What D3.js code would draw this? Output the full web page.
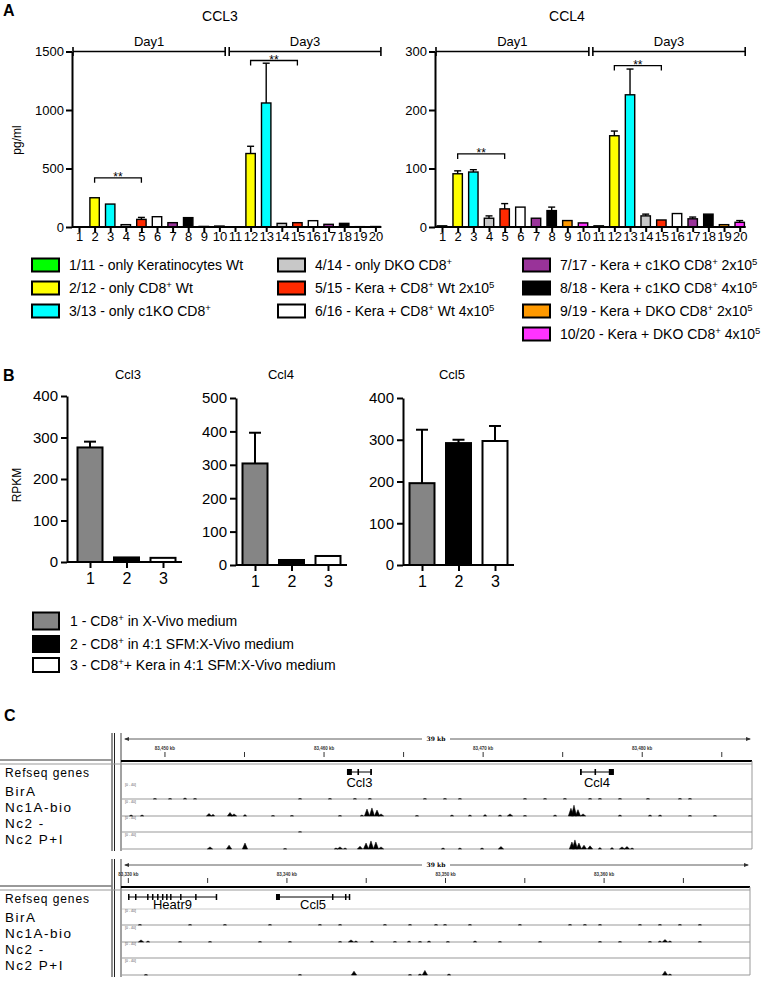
<!DOCTYPE html>
<html>
<head>
<meta charset="utf-8">
<script src="https://cdn.jsdelivr.net/npm/d3@7/dist/d3.min.js"></script>
<style>
body { margin: 0; background: #fff; }
svg { font-family: Arial, "Liberation Sans", Helvetica, sans-serif; }
</style>
</head>
<body>
<svg id="fig" width="764" height="981"></svg>
<script>
/* ---- panel A data ---- */
var groupsA = ["1","2","3","4","5","6","7","8","9","10","11","12","13","14","15","16","17","18","19","20"];
var ccl3Mean = [0,250,196,20,65,88,37,80,5,8, 0,628,1060,31,37,54,23,31,3,4];
var ccl3Err  = [0,256,200,22,82,92,40,83,5,8, 0,690,1400,34,40,57,26,33,3,4];
var ccl4Mean = [2,91,94,15,31,34,15,28,11,7, 2,156,226,19,12,23,14,22,4,8];
var ccl4Err  = [2,96,98,19,40,35,16,34,12,7, 2,164,270,22,13,24,17,23,4,11];
var ccl3Ticks = [0,500,1000,1500];
var ccl4Ticks = [0,100,200,300];
var days = ["Day1","Day3"];
var sigPairs = [["2","5"],["12","15"]];
var ccl3Sig = [420,1423];
var ccl4Sig = [125,276];
var legendA = [
  "1/11 - only Keratinocytes Wt",
  "2/12 - only CD8{+} Wt",
  "3/13 - only c1KO CD8{+}",
  "4/14 - only DKO CD8{+}",
  "5/15 - Kera + CD8{+} Wt 2x10{5}",
  "6/16 - Kera + CD8{+} Wt 4x10{5}",
  "7/17 - Kera + c1KO CD8{+} 2x10{5}",
  "8/18 - Kera + c1KO CD8{+} 4x10{5}",
  "9/19 - Kera + DKO CD8{+} 2x10{5}",
  "10/20 - Kera + DKO CD8{+} 4x10{5}"
];

/* ---- panel B data ---- */
var groupsB = ["1","2","3"];
var bCcl3 = [276,11,10], bCcl3Err = [290,12,11];
var bCcl4 = [304,15,27], bCcl4Err = [396,19,31];
var bCcl5 = [196,292,297], bCcl5Err = [324,300,333];
var legendB = [
  "1 - CD8{+} in X-Vivo medium",
  "2 - CD8{+} in 4:1 SFM:X-Vivo medium",
  "3 - CD8{+}+ Kera in 4:1 SFM:X-Vivo medium"
];

/* ---- panel C data (kb, signal 0-40) ---- */
var trackNames = ["BirA","Nc1A-bio","Nc2 -","Nc2 P+I"];
var topTicks = [83450,83455,83460,83465,83470,83475,83480,83485];
var topTickLabels = ["83,450 kb","","83,460 kb","","83,470 kb","","83,480 kb",""];
var botTicks = [83330,83335,83340,83345,83350,83355,83360,83365];
var botTickLabels = ["83,330 kb","","83,340 kb","","83,350 kb","","83,360 kb",""];

var topBirA = [[83449.37,1.5],[83450.32,1.5],[83451.26,3],[83451.89,1.5],[83458.49,1.5],[83460.37,1.5],[83461.94,1.5],[83462.88,1.5],[83466.34,1.5],[83467.60,1.5],[83468.54,1.5],[83472.63,1.5],[83473.89,1.5],[83475.14,1.5],[83476.72,1.5],[83477.34,1.5],[83478.60,1.5],[83480.36,1.5],[83482.37,1.5],[83483.00,1.5]];
var topNc1A = [[83447.87,3],[83448.56,3],[83452.77,7],[83453.02,5],[83454.09,10],[83454.34,6],[83455.03,4],[83456.79,1.5],[83457.98,1.5],[83461.00,1.5],[83462.38,3],[83462.70,20],[83463.01,23],[83463.33,17],[83463.58,6],[83465.84,1.5],[83468.04,3],[83469.17,3],[83470.12,4],[83471.06,3],[83471.69,6],[83472.63,1.5],[83474.52,3],[83475.52,22],[83475.71,31],[83475.96,18],[83476.28,6],[83478.60,3],[83480.49,3],[83481.12,3],[83483.00,1.5],[83484.57,1.5]];
var topNc2 = [[83458.49,1]];
var topNc2PI = [[83452.83,6],[83454.03,11],[83455.03,17],[83457.55,1.5],[83460.75,3],[83461.00,6],[83461.32,3],[83462.26,8],[83462.64,17],[83462.95,23],[83463.26,20],[83463.58,6],[83467.48,3],[83468.54,3],[83469.93,3],[83471.12,7],[83475.58,20],[83475.77,26],[83476.02,17],[83476.34,11],[83476.72,9],[83477.34,4],[83478.10,4],[83478.73,6],[83479.04,7],[83479.36,3]];

var botBirA = [[83330.73,1.5],[83333.89,1.5],[83336.09,1.5],[83338.93,1.5],[83342.08,1.5],[83343.35,1.5],[83346.18,1.5],[83347.76,1.5],[83349.40,1.5],[83349.97,1.5],[83351.54,1.5],[83354.69,1.5],[83357.85,1.5],[83358.79,1.5],[83359.74,1.5],[83362.26,1.5],[83363.52,1.5],[83364.78,1.5],[83366.04,1.5]];
var botNc1A = [[83330.80,6],[83331.24,3],[83333.26,1.5],[83335.15,1.5],[83338.30,1.5],[83340.19,1.5],[83343.35,1.5],[83344.04,6],[83344.35,3],[83345.36,3],[83346.81,1.5],[83347.70,3],[83348.39,1.5],[83348.96,3],[83350.15,1.5],[83351.86,3],[83353.43,1.5],[83355.96,1.5],[83359.74,1.5],[83361.00,1.5],[83362.89,1.5],[83363.52,3],[83363.84,7],[83364.15,3],[83366.04,1.5]];
var botNc2 = [];
var botNc2PI = [[83331.11,1.5],[83340.82,1.5],[83344.23,11],[83347.76,1.5],[83348.39,3],[83348.70,13],[83350.22,3],[83363.84,11],[83364.15,3]];

var topGenes = ["Ccl3","Ccl4"];
var topGeneSpan = [[83461.44,83463.01],[83476.09,83478.22]];
var topGeneExons = [[[83461.44,83461.75],[83462.10,83462.20],[83462.90,83463.01]],
                    [[83476.09,83476.20],[83477.00,83477.10],[83477.90,83478.22]]];
var botGenes = ["Heatr9","Ccl5"];
var botGeneSpan = [[83329.98,83335.59],[83339.31,83343.98]];
var botGeneExons = [[[83329.98,83330.06],[83330.42,83330.50],[83331.18,83331.26],[83331.49,83331.57],[83331.81,83331.89],[83332.12,83332.20],[83332.38,83332.46],[83332.63,83332.71],[83333.26,83333.34],[83334.21,83334.29],[83335.51,83335.59]],
                    [[83339.31,83339.56],[83342.84,83342.92],[83343.66,83343.74],[83343.90,83343.98]]];

/* styles */
var barFill = ["#00ff00","#ffff00","#00ffff","#c8c8c8","#ff2a00","#ffffff","#993399","#000000","#ff9900","#ff33ff"];
var bFill = ["#858585","#000000","#ffffff"];

var svg = d3.select("#fig");
svg.append("rect").attr("width",764).attr("height",981).attr("fill","#fff");

function rich(sel, str, size) {
  var parts = str.split(/\{|\}/);
  parts.forEach(function(p, i){
    if (p === "") return;
    var t = sel.append("tspan").text(p);
    if (i % 2 === 1) t.attr("dy", -size*0.38).style("font-size", (size*0.68)+"px");
    else if (i > 0) t.attr("dy", size*0.38);
  });
}

function styleAxis(a, fs) {
  a.attr("font-family", null).attr("font-size", fs);
  a.selectAll("path,line").attr("stroke","#000").attr("stroke-width",2);
  a.selectAll("text").attr("fill","#000");
}

/* ---- A ---- */
function drawA(c) {
  var g = svg.append("g");
  var x = d3.scalePoint().domain(groupsA).range([c.first, c.last]);
  var y = d3.scaleLinear().domain([0, c.ticks[c.ticks.length-1]]).range([227, 51.5]);
  var bw = 9.4;
  g.append("g").selectAll("rect").data(c.mean).join("rect")
    .attr("x", function(d,i){ return x(groupsA[i]) - bw/2; })
    .attr("y", function(d){ return y(d); })
    .attr("width", bw)
    .attr("height", function(d){ return y(0) - y(d); })
    .attr("fill", function(d,i){ return barFill[i % 10]; })
    .attr("stroke","#000").attr("stroke-width",1.4);
  var eb = g.append("g").attr("stroke","#000").attr("stroke-width",1.4);
  c.err.forEach(function(e,i){
    if (y(c.mean[i]) - y(e) < 1.5) return;
    var cx = x(groupsA[i]);
    eb.append("line").attr("x1",cx).attr("x2",cx).attr("y1",y(c.mean[i])).attr("y2",y(e));
    eb.append("line").attr("x1",cx-3.5).attr("x2",cx+3.5).attr("y1",y(e)).attr("y2",y(e));
  });
  var ya = g.append("g").attr("transform","translate("+c.axisX+",0)")
    .call(d3.axisLeft(y).tickValues(c.ticks).tickFormat(d3.format("d")).tickSize(6).tickSizeOuter(0).tickPadding(2));
  styleAxis(ya, 13);
  var xa = g.append("g").attr("transform","translate(0,227)")
    .call(d3.axisBottom(x).tickSize(5).tickSizeOuter(0).tickPadding(0));
  xa.select(".domain").remove();
  styleAxis(xa, 13);
  g.append("line").attr("x1",c.axisX).attr("x2",x("20")+6).attr("y1",227).attr("y2",227)
    .attr("stroke","#000").attr("stroke-width",2);

  // day brackets
  var yt = y.range()[1];
  var brk = (x("10") + x("11")) / 2;
  var spans = [[c.axisX + 1, brk - 2], [brk + 2, x("20") + 5.5]];
  var db = g.append("g").attr("stroke","#000").attr("stroke-width",1.6);
  spans.forEach(function(s, k){
    db.append("line").attr("x1",s[0]).attr("x2",s[1]).attr("y1",yt).attr("y2",yt);
    db.append("line").attr("x1",s[0]).attr("x2",s[0]).attr("y1",yt-4.5).attr("y2",yt+4.5);
    db.append("line").attr("x1",s[1]).attr("x2",s[1]).attr("y1",yt-4.5).attr("y2",yt+4.5);
    g.append("text").attr("x",(s[0]+s[1])/2).attr("y",yt-5.5).attr("text-anchor","middle")
      .attr("font-size",13).text(days[k]);
  });
  // significance
  sigPairs.forEach(function(p, k){
    var yy = y(c.sig[k]), xa1 = x(p[0]), xb = x(p[1]);
    g.append("path").attr("d","M"+xa1+","+(yy+5)+"V"+yy+"H"+xb+"V"+(yy+5))
      .attr("fill","none").attr("stroke","#000").attr("stroke-width",1.3);
    g.append("text").attr("x",(xa1+xb)/2).attr("y",yy+3.5).attr("text-anchor","middle")
      .attr("font-size",12).text("**");
  });
  g.append("text").attr("x",c.titleX).attr("y",21).attr("text-anchor","middle")
    .attr("font-size",14).text(c.title);
}

svg.append("text").attr("x",3).attr("y",16).attr("font-size",16).attr("font-weight","bold").text("A");
drawA({title:"CCL3", titleX:220, first:79, last:375.4, axisX:72, mean:ccl3Mean, err:ccl3Err, ticks:ccl3Ticks, sig:ccl3Sig});
drawA({title:"CCL4", titleX:567, first:442, last:739.7, axisX:435, mean:ccl4Mean, err:ccl4Err, ticks:ccl4Ticks, sig:ccl4Sig});
svg.append("text").attr("transform","translate(21,140) rotate(-90)").attr("text-anchor","middle")
  .attr("font-size",12).text("pg/ml");

// legend A
var legColX = [32, 278, 523];
var legRowY = [265, 288, 311, 334];
var legCol = [0,0,0,1,1,1,2,2,2,2];
var legRow = [0,1,2,0,1,2,0,1,2,3];
var lga = svg.append("g");
legendA.forEach(function(s, i){
  var lx = legColX[legCol[i]], ly = legRowY[legRow[i]];
  lga.append("rect").attr("x",lx).attr("y",ly-6.5).attr("width",27).attr("height",13)
    .attr("fill",barFill[i]).attr("stroke","#000").attr("stroke-width",2);
  var t = lga.append("text").attr("x",lx+37).attr("y",ly+5).attr("font-size",14);
  rich(t, s, 14);
});

/* ---- B ---- */
function drawB(c) {
  var g = svg.append("g");
  var x = d3.scalePoint().domain(groupsB).range([c.first, c.first + 73]);
  var y = d3.scaleLinear().domain([0, c.ticks[c.ticks.length-1]]).range([c.y0, c.yTop]);
  var bw = 25;
  g.append("g").selectAll("rect").data(c.mean).join("rect")
    .attr("x", function(d,i){ return x(groupsB[i]) - bw/2; })
    .attr("y", function(d){ return y(d); })
    .attr("width", bw)
    .attr("height", function(d){ return y(0) - y(d); })
    .attr("fill", function(d,i){ return bFill[i]; })
    .attr("stroke","#000").attr("stroke-width",2);
  var eb = g.append("g").attr("stroke","#000").attr("stroke-width",2);
  c.err.forEach(function(e,i){
    if (y(c.mean[i]) - y(e) < 1.5) return;
    var cx = x(groupsB[i]);
    eb.append("line").attr("x1",cx).attr("x2",cx).attr("y1",y(c.mean[i])).attr("y2",y(e));
    eb.append("line").attr("x1",cx-6).attr("x2",cx+6).attr("y1",y(e)).attr("y2",y(e));
  });
  var ya = g.append("g").attr("transform","translate("+c.axisX+",0)")
    .call(d3.axisLeft(y).tickValues(c.ticks).tickSize(6).tickSizeOuter(0).tickPadding(3));
  styleAxis(ya, 15);
  var xa = g.append("g").attr("transform","translate(0,"+c.y0+")")
    .call(d3.axisBottom(x).tickSize(6).tickSizeOuter(0).tickPadding(5));
  xa.select(".domain").remove();
  styleAxis(xa, 16);
  g.append("line").attr("x1",c.axisX).attr("x2",x("3")+19).attr("y1",c.y0).attr("y2",c.y0)
    .attr("stroke","#000").attr("stroke-width",2);
  g.append("text").attr("x",c.titleX).attr("y",379).attr("text-anchor","middle")
    .attr("font-size",13).text(c.title);
}

svg.append("text").attr("x",3).attr("y",381).attr("font-size",16).attr("font-weight","bold").text("B");
drawB({title:"Ccl3", titleX:128, axisX:67, first:90, y0:562, yTop:396, mean:bCcl3, err:bCcl3Err, ticks:[0,100,200,300,400]});
drawB({title:"Ccl4", titleX:281, axisX:236, first:255, y0:565, yTop:398, mean:bCcl4, err:bCcl4Err, ticks:[0,100,200,300,400,500]});
drawB({title:"Ccl5", titleX:452, axisX:403, first:422, y0:565, yTop:398, mean:bCcl5, err:bCcl5Err, ticks:[0,100,200,300,400]});
svg.append("text").attr("transform","translate(21,485) rotate(-90)").attr("text-anchor","middle")
  .attr("font-size",12).text("RPKM");

var lgb = svg.append("g");
var lgbY = [621, 644, 665];
var lgbH = [17, 16, 14];
legendB.forEach(function(s, i){
  lgb.append("rect").attr("x",33).attr("y",lgbY[i]-lgbH[i]/2).attr("width",26).attr("height",lgbH[i])
    .attr("fill",bFill[i]).attr("stroke","#000").attr("stroke-width",2);
  var t = lgb.append("text").attr("x",70).attr("y",lgbY[i]+5).attr("font-size",14);
  rich(t, s, 14);
});

/* ---- C ---- */
function drawTracks(c) {
  var g = svg.append("g");
  var t = c.top;
  var x = d3.scaleLinear().domain(c.domain).range([122, c.right]);
  var L = 122, R = c.right;
  // left dividers
  [112, 114.5].forEach(function(xx){
    g.append("line").attr("x1",xx).attr("x2",xx).attr("y1",t-6).attr("y2",Math.min(t+112,981))
      .attr("stroke","#222").attr("stroke-width",1);
  });
  g.append("line").attr("x1",121).attr("x2",121).attr("y1",t-6).attr("y2",Math.min(t+112,981))
    .attr("stroke","#444").attr("stroke-width",1);
  // ruler arrow
  g.append("line").attr("x1",L+3).attr("x2",R-2).attr("y1",t).attr("y2",t).attr("stroke","#333").attr("stroke-width",0.8);
  g.append("path").attr("d","M"+(L+2)+","+t+"l5,-2v4z").attr("fill","#333");
  g.append("path").attr("d","M"+(R-1)+","+t+"l-5,-2v4z").attr("fill","#333");
  g.append("rect").attr("x",c.kbX-14).attr("y",t-4).attr("width",28).attr("height",8).attr("fill","#fff");
  g.append("text").attr("x",c.kbX).attr("y",t+2).attr("text-anchor","middle").attr("font-size",6)
    .attr("font-weight","bold").attr("font-family","'DejaVu Serif', serif").text("39 kb");
  // ticks
  c.ticks.forEach(function(k, i){
    g.append("line").attr("x1",x(k)).attr("x2",x(k)).attr("y1",t+13).attr("y2",t+18)
      .attr("stroke","#333").attr("stroke-width",1);
    if (c.tickLabels[i]) g.append("text").attr("x",x(k)).attr("y",t+11).attr("text-anchor","middle")
      .attr("font-size",4.5).attr("font-weight","bold").attr("fill","#333").text(c.tickLabels[i]);
  });
  // separators
  g.append("line").attr("x1",L-1).attr("x2",R).attr("y1",t+22).attr("y2",t+22).attr("stroke","#000").attr("stroke-width",2);
  g.append("line").attr("x1",0).attr("x2",R).attr("y1",t+25).attr("y2",t+25).attr("stroke","#999").attr("stroke-width",1.2);
  g.append("line").attr("x1",0).attr("x2",112).attr("y1",t+21).attr("y2",t+21).attr("stroke","#777").attr("stroke-width",1.5);
  g.append("line").attr("x1",R).attr("x2",R).attr("y1",t+22).attr("y2",t+110).attr("stroke","#999").attr("stroke-width",1);
  if (c.refLine) g.append("line").attr("x1",L).attr("x2",R).attr("y1",t+44).attr("y2",t+44).attr("stroke","#ccc").attr("stroke-width",1);
  // genes
  c.genes.forEach(function(name, i){
    var gy = t + c.geneY;
    var sp = c.geneSpan[i];
    g.append("line").attr("x1",x(sp[0])).attr("x2",x(sp[1])).attr("y1",gy).attr("y2",gy)
      .attr("stroke","#000").attr("stroke-width",1);
    c.geneExons[i].forEach(function(ex){
      var w = Math.max(1.5, x(ex[1]) - x(ex[0]));
      g.append("rect").attr("x",x(ex[0])).attr("y",gy-3).attr("width",w).attr("height",6).attr("fill","#000");
    });
    g.append("text").attr("x",(x(sp[0])+x(sp[1]))/2).attr("y",gy+c.geneLab).attr("text-anchor","middle")
      .attr("font-size",13).text(name);
  });
  // labels
  g.append("text").attr("x",5).attr("y",t+38).attr("font-size",12).attr("letter-spacing",0.9).text("Refseq genes");
  var labY = [57, 73, 89, 105];
  var base = [60, 77, 93, 110];
  trackNames.forEach(function(n, i){
    g.append("text").attr("x",5).attr("y",t+labY[i]).attr("font-size",13.5).attr("letter-spacing",1.5).text(n);
    var b = t + base[i];
    g.append("line").attr("x1",L).attr("x2",R).attr("y1",b).attr("y2",b).attr("stroke","#999").attr("stroke-width",1);
    g.append("text").attr("x",L+3).attr("y",b-13).attr("font-size",3.5).attr("fill","#555").text("[0 - 40]");
    var y = d3.scaleLinear().domain([0,40]).range([b, b-14]);
    g.append("g").selectAll("path").data(c.tracks[i]).join("path")
      .attr("d", function(d){
        var w = d[1] > 5 ? 2.6 : 1.6;
        return "M"+(x(d[0])-w)+","+b+"L"+x(d[0])+","+y(d[1])+"L"+(x(d[0])+w)+","+b+"Z";
      })
      .attr("fill","#000").attr("stroke","#000").attr("stroke-width",0.5);
  });
}

svg.append("text").attr("x",4).attr("y",721).attr("font-size",16).attr("font-weight","bold").text("C");
drawTracks({top:739, right:752, kbX:436, domain:[83447.3,83486.9], ticks:topTicks, tickLabels:topTickLabels,
  genes:topGenes, geneSpan:topGeneSpan, geneExons:topGeneExons, geneY:33, geneLab:15, refLine:false,
  tracks:[topBirA, topNc1A, topNc2, topNc2PI]});
drawTracks({top:865, right:750, kbX:436, domain:[83329.6,83369.2], ticks:botTicks, tickLabels:botTickLabels,
  genes:botGenes, geneSpan:botGeneSpan, geneExons:botGeneExons, geneY:32, geneLab:12, refLine:true,
  tracks:[botBirA, botNc1A, botNc2, botNc2PI]});
</script>
</body>
</html>
